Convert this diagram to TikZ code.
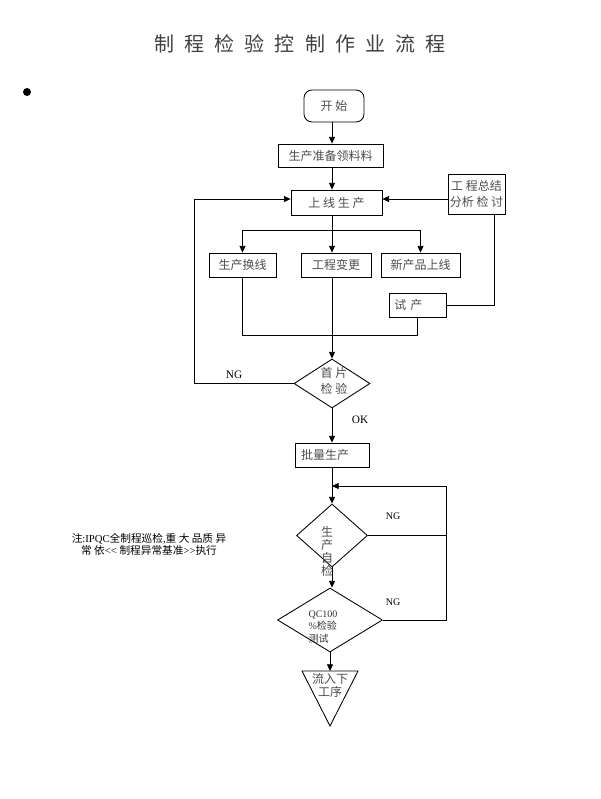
\documentclass[tikz,border=0pt]{standalone}
\usepackage{fontspec}
\setmainfont{Liberation Serif}
\newfontfamily\cjk{Noto Sans CJK SC}
\usetikzlibrary{arrows.meta,shapes.geometric,calc}
\begin{document}
\begin{tikzpicture}[x=0.75pt,y=-0.75pt,
  box/.style={draw, line width=0.65pt, inner sep=0pt, align=center, font=\cjk\fontsize{9}{12}\selectfont, text=black!70},
  dia/.style={draw, diamond, line width=0.65pt, inner sep=0pt},
  lbl/.style={font=\cjk\fontsize{9}{12}\selectfont, text=black!70, align=center, inner sep=0pt},
  lat/.style={font=\fontsize{8.5}{11}\selectfont, inner sep=0pt},
  ln/.style={line width=0.6pt},
  arr/.style={line width=0.6pt, -{Triangle[length=5pt,width=4.5pt]}}]
\useasboundingbox (0,0) rectangle (600,799);

% title
\node[inner sep=0pt, text=black!75, font=\cjk\fontsize{15}{18}\selectfont] (title) at (300,44)
  {制\hspace{7.6pt}程\hspace{7.6pt}检\hspace{7.6pt}验\hspace{7.6pt}控\hspace{7.6pt}制\hspace{7.6pt}作\hspace{7.6pt}业\hspace{7.6pt}流\hspace{7.6pt}程};
\node[circle, fill, inner sep=0pt, minimum size=6pt] (bul) at (27,92) {};

\coordinate (ax) at (332,0);

\node[box, rounded corners=6pt, minimum width=45pt, minimum height=24pt] (start) at (334,106) {开 始};
\node[box, minimum width=78.75pt, minimum height=17.25pt] (prep) at (330.5,155.5) {生产准备领料料};
\node[box, minimum width=68.25pt, minimum height=18.75pt] (line) at (336.5,202.5) {上 线 生 产};
\node[box, minimum width=42.75pt, minimum height=30pt] (summ) at (476.5,194) {工 程总结\\分析 检 讨};
\node[box, minimum width=50.25pt, minimum height=18pt] (b1) at (242.5,265) {生产换线};
\node[box, minimum width=52.5pt, minimum height=18pt] (b2) at (336,265) {工程变更};
\node[box, minimum width=59.25pt, minimum height=18pt] (b3) at (420.5,265) {新产品上线};
\node[box, minimum width=42.75pt, minimum height=18pt, align=left, text width=34.75pt, inner xsep=4pt] (trial) at (417.5,305) {试 产};

\node[dia, minimum width=57pt, minimum height=36.75pt] (d1) at (332,383.5) {};
\node[lbl] (d1t) at (334,381) {首 片\\检 验};

\node[box, minimum width=55.5pt, minimum height=18pt, align=left, text width=46.5pt, inner xsep=4.5pt] (batch) at (332,455) {批量生产};

\node[dia, minimum width=53.25pt, minimum height=47.25pt] (d2) at (332,535.5) {};
\node[lbl, font=\cjk\fontsize{9}{9.75}\selectfont] (d2t) at (327,551.5) {生\\产\\自\\检};

\node[dia, minimum width=78.75pt, minimum height=48pt] (d3) at (330,620) {};
\node[lat, align=left, font=\fontsize{7.5}{9.4}\selectfont, text=black!80] (d3t) at (323,627) {QC100\\\%{\cjk 检验}\\{\cjk 测试}};

\coordinate (tl) at (302,671);
\coordinate (tr) at (358,671);
\coordinate (tb) at (330,726);
\coordinate (ttop) at (330,671);
\draw[line width=0.65pt] (tl) -- (tr) -- (tb) -- cycle;
\node[lbl, font=\cjk\fontsize{9}{9.75}\selectfont] (tt) at (330,685.5) {流入下\\工序};

% connectors
\draw[arr] (ax |- start.south) -- (ax |- prep.north);
\draw[arr] (ax |- prep.south) -- (ax |- line.north);
\coordinate (lin) at ([yshift=2.6pt]line.west);
\coordinate (lie) at ([yshift=2.6pt]line.east);
\draw[arr] (summ.west |- lie) -- (lie);

\coordinate (br) at (332,230);
\draw[ln] (ax |- line.south) -- (br);
\draw[ln] (b1.north |- br) -- (b3.north |- br);
\draw[arr] (b1.north |- br) -- (b1.north);
\draw[arr] (br) -- (ax |- b2.north);
\draw[arr] (b3.north |- br) -- (b3.north);

\draw[ln] (trial.east) -| ([xshift=13.1pt]summ.south);

\coordinate (mg) at (0,335);
\draw[ln] (b1.south) -- (b1.south |- mg) -- (trial.south |- mg) -- (trial.south);
\draw[arr] (ax |- b2.south) -- (d1.north);

\coordinate (lx) at (194,0);
\draw[arr] (d1.west) -- (d1.west -| lx) -- (lx |- lin) -- (lin);

\draw[arr] (d1.south) -- (batch.north);
\draw[arr] (batch.south) -- (d2.north);
\draw[arr] (d2.south) -- (d2.south |- d3.north);
\draw[arr] (d3.south) -- (ttop);

\coordinate (rt) at (446,486);
\draw[ln] (d3.east) -- (d3.east -| rt) -- (rt);
\draw[arr] (rt) -- (ax |- rt);
\draw[ln] (d2.east) -- (d2.east -| rt);

% labels
\node[lat] (ng1) at (234,375) {NG};
\node[lat] (ok) at (360,420) {OK};
\node[lat, font=\fontsize{7.5}{9}\selectfont] (ng2) at (393,516) {NG};
\node[lat, font=\fontsize{7.5}{9}\selectfont] (ng3) at (393,602) {NG};

\node[lat, align=center, font=\fontsize{8}{9}\selectfont] (note) at (149,544)
  {{\cjk 注}:IPQC{\cjk 全制程巡检},{\cjk 重 大 品质 异}\\{\cjk 常 依}<\kern0pt<\kern0pt{} {\cjk 制程异常基准}>\kern0pt>\kern0pt{\cjk 执行}};
\end{tikzpicture}
\end{document}
